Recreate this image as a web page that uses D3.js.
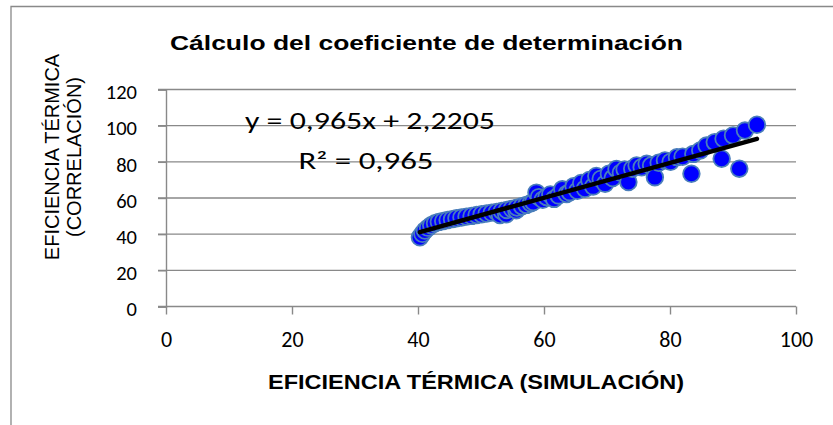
<!DOCTYPE html>
<html>
<head>
<meta charset="utf-8">
<script src="https://cdn.jsdelivr.net/npm/d3@7"></script>
<style>
  html, body { margin: 0; padding: 0; background: #fff; }
  svg { display: block; }
</style>
</head>
<body>
<svg id="chart" width="833" height="425"></svg>
<script>
// Thermal efficiency: simulation (x) vs. correlation (y)
const simulacion = [
  40.3, 40.7, 41.1, 41.6, 42.1, 42.7, 43.3, 44.0, 44.7, 45.4,
  46.1, 46.9, 47.7, 48.5, 49.3, 50.1, 50.9, 51.7, 52.5, 53.0,
  53.3, 54.0, 54.1, 54.9, 55.6, 55.7, 56.5, 57.2, 57.9, 58.3,
  58.8, 59.2, 59.8, 60.4, 61.0, 61.6, 62.3, 62.9, 63.6, 64.1,
  64.7, 65.3, 65.9, 66.5, 67.2, 67.8, 68.3, 69.0, 69.7, 70.3,
  70.9, 71.5, 72.2, 72.8, 73.4, 74.0, 74.7, 75.5, 76.3, 77.0,
  77.6, 78.2, 79.2, 80.1, 81.1, 82.0, 83.4, 83.7, 84.8, 85.8,
  87.1, 88.2, 88.5, 90.0, 91.0, 91.9, 93.8
];
const correlacion = [
  38.3, 40.2, 42.0, 43.6, 44.9, 46.0, 46.8, 47.3, 47.8, 48.3,
  48.8, 49.2, 49.7, 50.1, 50.6, 51.0, 51.4, 51.9, 52.3, 50.6,
  52.8, 51.0, 53.4, 54.0, 53.2, 54.7, 55.4, 56.2, 57.1, 57.8,
  63.0, 60.5, 59.0, 60.5, 62.0, 59.5, 61.4, 64.8, 62.2, 63.2,
  66.5, 64.0, 68.3, 65.1, 70.0, 66.4, 72.2, 70.5, 67.9, 73.4,
  71.0, 76.1, 74.0, 75.8, 68.8, 76.2, 78.0, 77.0, 78.9, 78.0,
  71.5, 79.5, 80.8, 80.0, 82.6, 82.8, 73.4, 84.4, 86.3, 89.0,
  90.9, 81.7, 92.8, 94.6, 76.2, 97.3, 100.5
];

// Linear trend reported on the chart
const pendiente = 0.965;
const intercepto = 2.2205;
const r2 = 0.965;

const xTicks = [0, 20, 40, 60, 80, 100];
const yTicks = [0, 20, 40, 60, 80, 100, 120];

const titulo = "Cálculo del coeficiente de determinación";
const tituloX = "EFICIENCIA TÉRMICA (SIMULACIÓN)";
const tituloY = ["EFICIENCIA TÉRMICA", "(CORRELACIÓN)"];
const ecuacion = "y = 0,965x + 2,2205";
const ecuacionR2 = "R² = 0,965";

const svg = d3.select("#chart");
const gray = "#898989";
const tickFont = "Carlito, Calibri, Lato, sans-serif";
const arial = "'Liberation Sans', Arial, sans-serif";

// chart frame (only its top and left edges fall inside the window)
svg.append("path")
  .attr("d", "M11,430 L11,6.5 L840,6.5")
  .attr("fill", "none").attr("stroke", gray).attr("stroke-width", 1.3);

const x = d3.scaleLinear().domain([0, 100]).range([166, 796]);
const y = d3.scaleLinear().domain([0, 120]).range([306.5, 89.5]);

// horizontal gridlines
svg.append("g").selectAll("line").data(yTicks.filter(d => d > 0)).join("line")
  .attr("x1", x(0) - 8).attr("x2", x(100))
  .attr("y1", d => y(d)).attr("y2", d => y(d))
  .attr("stroke", gray).attr("stroke-width", 1.4);

// y axis
const yAxis = svg.append("g").attr("transform", `translate(${x(0)},0)`)
  .call(d3.axisLeft(y).tickValues(yTicks).tickSize(8).tickPadding(21));
yAxis.select(".domain").attr("stroke", gray).attr("stroke-width", 1.4);
yAxis.selectAll(".tick line").attr("stroke", gray).attr("stroke-width", 1.4);
yAxis.selectAll(".tick text")
  .attr("font-family", tickFont).attr("font-size", 20.5).attr("fill", "#000")
  .attr("dy", "0.45em");

// x axis
const xAxis = svg.append("g").attr("transform", `translate(0,${y(0)})`)
  .call(d3.axisBottom(x).tickValues(xTicks).tickSize(8).tickPadding(17));
xAxis.select(".domain").attr("stroke", gray).attr("stroke-width", 1.4)
  .attr("d", `M${x(0) - 8},0H${x(100)}`);
xAxis.selectAll(".tick line").attr("stroke", gray).attr("stroke-width", 1.4);
xAxis.selectAll(".tick text")
  .attr("font-family", tickFont).attr("font-size", 22).attr("fill", "#000")
  .attr("dy", "0.71em");

// data points
const puntos = simulacion.map((v, i) => ({ x: v, y: correlacion[i] }));
svg.append("g").selectAll("circle").data(puntos).join("circle")
  .attr("cx", d => x(d.x)).attr("cy", d => y(d.y)).attr("r", 8.3)
  .attr("fill", "#0000ff").attr("stroke", "#4a7ebb").attr("stroke-width", 1.8);

// trend line over the range of the data
const [xMin, xMax] = d3.extent(simulacion);
svg.append("line")
  .attr("x1", x(xMin)).attr("y1", y(pendiente * xMin + intercepto))
  .attr("x2", x(xMax)).attr("y2", y(pendiente * xMax + intercepto))
  .attr("stroke", "#000").attr("stroke-width", 4.5).attr("stroke-linecap", "round");

// trend equation
svg.append("text").text(ecuacion)
  .attr("x", 370).attr("y", 128.5).attr("text-anchor", "middle")
  .attr("font-family", tickFont).attr("font-size", 24)
  .attr("textLength", 250).attr("lengthAdjust", "spacingAndGlyphs");
svg.append("text").text(ecuacionR2)
  .attr("x", 366).attr("y", 168.5).attr("text-anchor", "middle")
  .attr("font-family", tickFont).attr("font-size", 24)
  .attr("textLength", 135).attr("lengthAdjust", "spacingAndGlyphs");

// chart title
svg.append("text").text(titulo)
  .attr("x", 426.5).attr("y", 49.5).attr("text-anchor", "middle")
  .attr("font-family", arial).attr("font-weight", "bold").attr("font-size", 21)
  .attr("textLength", 513).attr("lengthAdjust", "spacingAndGlyphs");

// x axis title
svg.append("text").text(tituloX)
  .attr("x", 476).attr("y", 388.5).attr("text-anchor", "middle")
  .attr("font-family", arial).attr("font-weight", "bold").attr("font-size", 21)
  .attr("textLength", 416).attr("lengthAdjust", "spacingAndGlyphs");

// y axis title, two lines rotated
svg.append("g").attr("transform", "translate(59,157) rotate(-90)")
  .selectAll("text").data(tituloY).join("text")
  .attr("x", 0).attr("y", (d, i) => i * 21.5)
  .attr("text-anchor", "middle")
  .attr("font-family", arial).attr("font-size", 20)
  .text(d => d);
</script>
</body>
</html>
